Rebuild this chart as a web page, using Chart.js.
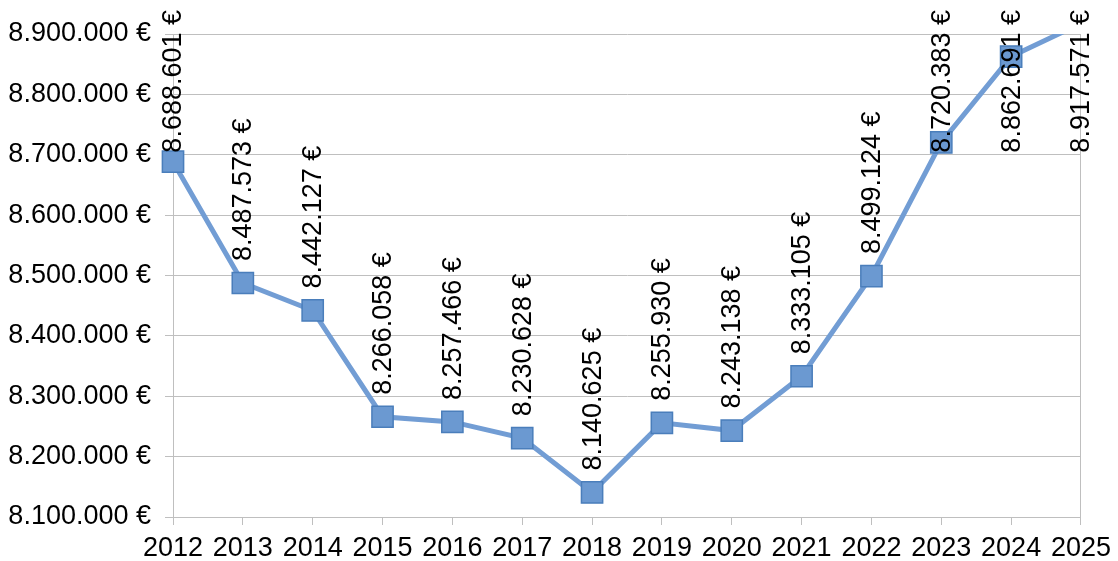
<!DOCTYPE html>
<html>
<head>
<meta charset="utf-8">
<script src="https://cdn.jsdelivr.net/npm/chart.js@4"></script>
<style>
  html, body { margin: 0; padding: 0; background: #ffffff; }
  #wrap { width: 1118px; height: 561px; position: relative; }
</style>
</head>
<body>
<div id="wrap"><canvas id="c" width="1118" height="561"></canvas></div>
<script>
const years = ['2012','2013','2014','2015','2016','2017','2018','2019','2020','2021','2022','2023','2024','2025'];
const values = [8688601, 8487573, 8442127, 8266058, 8257466, 8230628, 8140625, 8255930, 8243138, 8333105, 8499124, 8720383, 8862691, 8917571];
const Y_MIN = 8100000;
const Y_MAX = 8900000;
const Y_STEP = 100000;

const FONT = '"Liberation Sans", Arial, sans-serif';
const FS = 27;
const GRID = '#bfbfbf';

function fmtEuro(v) {
  const s = Math.round(v).toString().replace(/\B(?=(\d{3})+(?!\d))/g, '.');
  return s + ' €';
}

const labelPlugin = {
  id: 'vlabels',
  afterDatasetsDraw(chart) {
    const ctx = chart.ctx;
    const meta = chart.getDatasetMeta(0);
    const ds = chart.data.datasets[0];
    ctx.save();
    ctx.font = FS + 'px ' + FONT;
    ctx.fillStyle = '#000000';
    ctx.textAlign = 'left';
    ctx.textBaseline = 'middle';
    meta.data.forEach((pt, i) => {
      const txt = fmtEuro(ds.data[i]);
      const w = ctx.measureText(txt).width;
      const yPix = chart.scales.y.getPixelForValue(ds.data[i]);
      let start = yPix - 22;
      const minStart = 10 + w;
      if (start < minStart) start = minStart;
      ctx.save();
      ctx.translate(pt.x + 1, start);
      ctx.rotate(-Math.PI / 2);
      ctx.fillText(txt, 0, 0);
      ctx.restore();
    });
    ctx.restore();
  }
};

new Chart(document.getElementById('c'), {
  type: 'line',
  data: {
    labels: years,
    datasets: [{
      data: values,
      borderColor: '#729dd4',
      borderWidth: 5,
      tension: 0,
      pointStyle: 'rect',
      pointRadius: (c) => (c.raw > Y_MAX ? 0 : 15),
      pointHoverRadius: (c) => (c.raw > Y_MAX ? 0 : 15),
      pointBackgroundColor: '#6b99d1',
      pointBorderColor: '#4a7ebb',
      pointBorderWidth: 1.5,
      clip: { left: false, right: false, top: 0, bottom: false }
    }]
  },
  options: {
    responsive: false,
    animation: false,
    devicePixelRatio: 1,
    layout: { padding: { left: 0, top: 34, right: 36, bottom: 0 } },
    plugins: {
      legend: { display: false },
      tooltip: { enabled: false },
      title: { display: false }
    },
    scales: {
      x: {
        type: 'category',
        offset: false,
        grid: {
          display: true,
          drawOnChartArea: true,
          color: (c) => (c.index === years.length - 1 ? GRID : 'rgba(0,0,0,0)'),
          tickColor: GRID,
          tickLength: 8,
          lineWidth: 1
        },
        border: { display: true, color: GRID, width: 1 },
        ticks: {
          color: '#000000',
          font: { family: FONT, size: FS },
          padding: 7,
          maxRotation: 0,
          autoSkip: false
        },
        afterFit(scale) { scale.height = 44; }
      },
      y: {
        min: Y_MIN,
        max: Y_MAX,
        grid: {
          color: GRID,
          tickColor: GRID,
          tickLength: 8,
          lineWidth: 1
        },
        border: { display: true, color: GRID, width: 1 },
        ticks: {
          stepSize: Y_STEP,
          color: '#000000',
          font: { family: FONT, size: FS },
          padding: 14,
          callback: (v) => fmtEuro(v)
        },
        afterFit(scale) { scale.width = 173; }
      }
    }
  },
  plugins: [labelPlugin]
});
</script>
</body>
</html>
